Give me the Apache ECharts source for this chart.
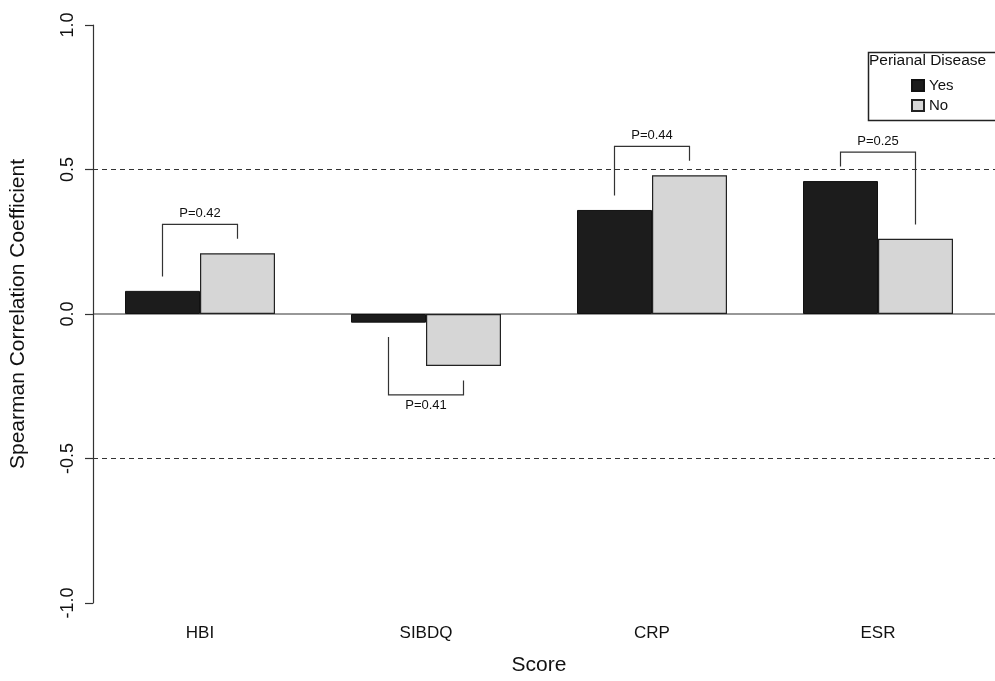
<!DOCTYPE html>
<html>
<head>
<meta charset="utf-8">
<script src="https://cdn.jsdelivr.net/npm/echarts@6/dist/echarts.min.js"></script>
<style>
  html, body { margin: 0; padding: 0; background: #fff; }
  #main { width: 995px; height: 681px; }
</style>
</head>
<body>
<div id="main"></div>
<script>
// data
var categories = ['HBI', 'SIBDQ', 'CRP', 'ESR'];
var yesValues = [0.08, -0.03, 0.36, 0.46];
var noValues = [0.21, -0.18, 0.48, 0.26];
var pLabels = ['P=0.42', 'P=0.41', 'P=0.44', 'P=0.25'];
var refLines = [0.5, 0, -0.5];
var yTicks = [-1.0, -0.5, 0.0, 0.5, 1.0];

var FONT = 'Liberation Sans, Arial, sans-serif';
var BAR_W = 75;

var chart = echarts.init(document.getElementById('main'));

var bracketData = categories.map(function (c, i) {
  return [i, yesValues[i], noValues[i], pLabels[i]];
});

function renderRef(params, api) {
  var cs = params.coordSys;
  var y = api.coord([0, api.value(0)])[1];
  var v = api.value(0);
  return {
    type: 'line',
    shape: { x1: cs.x + 6, y1: y, x2: cs.x + cs.width + 4, y2: y },
    style: {
      stroke: v === 0 ? '#333' : '#333',
      lineWidth: 1.2,
      lineDash: v === 0 ? null : [5, 4]
    },
    silent: true
  };
}

function renderBracket(params, api) {
  var i = api.value(0);
  var yes = api.value(1);
  var no = api.value(2);
  var down = Math.max(yes, no) < 0;
  var s = down ? -1 : 1;
  var topV = down ? Math.min(yes, no) - 0.1 : Math.max(yes, no) + 0.1;
  var c = api.coord([i, 0])[0];
  var xl = c - BAR_W / 2, xr = c + BAR_W / 2;
  var yl = api.coord([i, yes + s * 0.05])[1];
  var yr = api.coord([i, no + s * 0.05])[1];
  var yt = api.coord([i, topV])[1];
  return {
    type: 'group',
    children: [
      {
        type: 'polyline',
        shape: { points: [[xl, yl], [xl, yt], [xr, yt], [xr, yr]] },
        style: { stroke: '#333', lineWidth: 1.2, fill: null }
      },
      {
        type: 'text',
        style: {
          text: api.value(3),
          x: c,
          y: down ? yt + 4 : yt - 4,
          align: 'center',
          verticalAlign: down ? 'top' : 'bottom',
          font: '13px ' + FONT,
          fill: '#111'
        }
      }
    ]
  };
}

var option = {
  backgroundColor: '#fff',
  animation: false,
  grid: { left: 87, right: 4, top: 25, bottom: 76 },
  legend: {
    data: ['Yes', 'No'],
    orient: 'vertical',
    left: 906,
    top: 73,
    itemWidth: 12,
    itemHeight: 11,
    itemGap: 5,
    icon: 'rect',
    textStyle: { fontFamily: FONT, fontSize: 15, color: '#111' }
  },
  graphic: [
    {
      type: 'rect',
      left: 866, top: 50,
      shape: { width: 140, height: 68 },
      style: { fill: 'none', stroke: '#222', lineWidth: 1.5 }
    },
    {
      type: 'text',
      left: 869, top: 53,
      style: { text: 'Perianal Disease', font: '15.5px ' + FONT, fill: '#111' }
    }
  ],
  xAxis: {
    type: 'category',
    data: categories,
    axisLine: { show: false },
    axisTick: { show: false },
    axisLabel: { fontFamily: FONT, fontSize: 17, color: '#111', margin: 22 },
    name: 'Score',
    nameLocation: 'middle',
    nameGap: 52,
    nameTextStyle: { fontFamily: FONT, fontSize: 21, color: '#111' }
  },
  yAxis: {
    type: 'value',
    min: yTicks[0],
    max: yTicks[yTicks.length - 1],
    interval: 0.5,
    offset: -6,
    splitLine: { show: false },
    axisLine: { show: true, lineStyle: { color: '#333', width: 1.2 } },
    axisTick: { show: true, length: 8, lineStyle: { color: '#333', width: 1.2 } },
    axisLabel: {
      rotate: 90,
      margin: 16,
      fontFamily: FONT,
      fontSize: 18,
      color: '#111',
      formatter: function (v) { return v.toFixed(1); }
    },
    name: 'Spearman Correlation Coefficient',
    nameLocation: 'middle',
    nameGap: 64,
    nameTextStyle: { fontFamily: FONT, fontSize: 21, color: '#111' }
  },
  series: [
    {
      name: 'Yes',
      type: 'bar',
      data: yesValues,
      barWidth: BAR_W,
      barGap: '0%',
      itemStyle: { color: '#1c1c1c', borderColor: '#111', borderWidth: 1 },
      z: 3
    },
    {
      name: 'No',
      type: 'bar',
      data: noValues,
      barWidth: BAR_W,
      itemStyle: { color: '#d6d6d6', borderColor: '#222', borderWidth: 1.2 },
      z: 3
    },
    {
      type: 'custom',
      data: refLines.map(function (v) { return [v]; }),
      renderItem: renderRef,
      encode: { y: 0 },
      silent: true,
      z: 2
    },
    {
      type: 'custom',
      data: bracketData,
      renderItem: renderBracket,
      encode: { x: 0, y: [1, 2] },
      silent: true,
      z: 4
    }
  ]
};

chart.setOption(option);
</script>
</body>
</html>
